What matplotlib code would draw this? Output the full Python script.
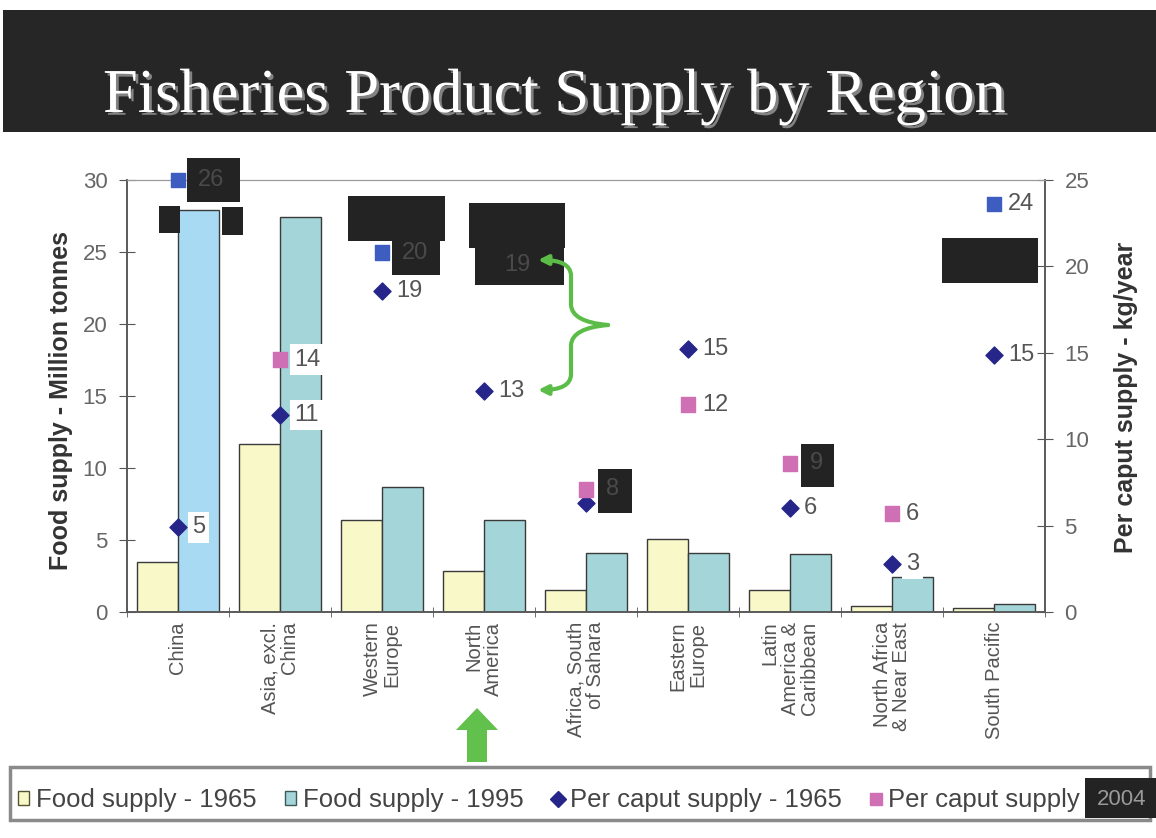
import numpy as np
import matplotlib
matplotlib.use("Agg")
import matplotlib.pyplot as plt
import matplotlib.patheffects as pe
from matplotlib.patches import Rectangle, Polygon, FancyArrowPatch, Patch
from matplotlib.lines import Line2D
from matplotlib.path import Path

W, H = 1156, 838

regions = ["China", "Asia, excl.\nChina", "Western\nEurope", "North\nAmerica",
           "Africa, South\nof Sahara", "Eastern\nEurope", "Latin\nAmerica &\nCaribbean",
           "North Africa\n& Near East", "South Pacific"]
food_1965 = [3.5, 11.7, 6.4, 2.85, 1.5, 5.1, 1.5, 0.4, 0.3]
food_1995 = [27.9, 27.4, 8.7, 6.4, 4.1, 4.1, 4.0, 2.4, 0.55]
caput_1965 = [4.9, 11.4, 18.6, 12.8, 6.3, 15.2, 6.0, 2.8, 14.9]
caput_2004 = [26.0, 14.6, 20.8, 20.1, 7.1, 12.0, 8.6, 5.7, 23.6]
labels_1965 = ["5", "11", "19", "13", "", "15", "6", "3", "15"]   # Africa label is covered
labels_2004 = ["26", "14", "20", "19", "8", "12", "9", "6", "24"]
blue_2004 = [0, 2, 3, 8]          # squares drawn in blue instead of pink
hidden_2004 = [0, 2, 3, 4, 6]     # labels sitting inside the black boxes
white_bg = [0, 1, 7]

plt.rcParams["font.family"] = ["Liberation Sans", "DejaVu Sans"]

fig = plt.figure(figsize=(W / 100, H / 100), dpi=100, facecolor="white")


def fx(x):
    return x / W


def fy(y):
    return 1 - y / H


def black_box(x0, y0, x1, y1, artist_ax=None):
    r = Rectangle((fx(x0), fy(y1)), (x1 - x0) / W, (y1 - y0) / H,
                  transform=fig.transFigure, facecolor="#232323", edgecolor="none",
                  clip_on=False, zorder=5)
    if artist_ax is None:
        fig.add_artist(r)
    else:
        artist_ax.add_patch(r)


# title bar
fig.add_artist(Rectangle((fx(3), fy(132)), (W - 3) / W, 122 / H,
                         transform=fig.transFigure, facecolor="#262626", edgecolor="none"))
fig.text(fx(103), fy(112), "Fisheries Product Supply by Region", family="Liberation Serif",
         fontsize=45, color="white", va="baseline", ha="left",
         path_effects=[pe.withSimplePatchShadow(offset=(2, -2), shadow_rgbFace="#9a9a9a", alpha=0.8)])

ax = fig.add_axes([fx(127), fy(612), 918 / W, 432 / H])
ax2 = ax.twinx()

x = np.arange(len(regions))
ax.bar(x - 0.2, food_1965, 0.4, color="#f8f8c9", edgecolor="#3a3a3a", linewidth=1, zorder=2)
cols95 = ["#a8dbf3"] + ["#a3d5d9"] * (len(regions) - 1)
ax.bar(x + 0.2, food_1995, 0.4, color=cols95, edgecolor="#3a3a3a", linewidth=1, zorder=2)

ax.set_xlim(-0.5, len(regions) - 0.5)
ax.set_ylim(0, 30)
ax2.set_ylim(0, 25)
ax.set_yticks(range(0, 31, 5))
ax2.set_yticks(range(0, 26, 5))
ax.set_xticks(x)
ax.set_xticklabels(regions, rotation=90, fontsize=14.5, color="#555555",
                   multialignment="right", linespacing=1.05)
ax.set_xticks(np.arange(-0.5, len(regions)), minor=True)
ax.tick_params(axis="x", which="major", length=0, pad=7)
ax.tick_params(axis="x", which="minor", direction="inout", length=7, color="#555555")
ax.tick_params(axis="y", direction="inout", length=12, color="#555555",
               labelcolor="#666666", labelsize=16, pad=8)
ax2.tick_params(axis="y", direction="inout", length=12, color="#555555",
                labelcolor="#666666", labelsize=16, pad=8)
for a in (ax, ax2):
    for s in ("left", "right", "bottom"):
        a.spines[s].set_color("#5a5a5a")
        a.spines[s].set_linewidth(1.2)
    a.spines["top"].set_color("#9a9a9a")

fig.text(fx(61), fy(401), "Food supply - Million tonnes", rotation=90, fontsize=18,
         fontweight="bold", color="#333333", ha="center", va="center")
fig.text(fx(1126), fy(397), "Per caput supply - kg/year", rotation=90, fontsize=18,
         fontweight="bold", color="#333333", ha="center", va="center")

# per caput markers
ax2.scatter(x, caput_1965, marker="D", s=75, color="#25258a", zorder=4, clip_on=False)
sq_cols = ["#3d5dc0" if i in blue_2004 else "#d070b4" for i in range(len(regions))]
caput_2004_shown = np.minimum(caput_2004, 25)   # the axis stops at 25
ax2.scatter(x, caput_2004_shown, marker="s", s=110, color=sq_cols, zorder=4, clip_on=False)

for i in range(len(regions)):
    for yv, lab, hidden in ((caput_1965[i], labels_1965[i], False),
                            (caput_2004_shown[i], labels_2004[i], i in hidden_2004)):
        if not lab:
            continue
        kw = dict(textcoords="offset pixels", va="center", ha="left",
                  fontsize=17, annotation_clip=False)
        if hidden:
            ax2.annotate(lab, (x[i], yv), xytext=(20, 0), color="#4a4a4a", zorder=6, **kw)
        elif i in white_bg:
            ax2.annotate(lab, (x[i], yv), xytext=(14, 0), color="#555555", zorder=4,
                         bbox=dict(facecolor="white", edgecolor="none", pad=3), **kw)
        else:
            ax2.annotate(lab, (x[i], yv), xytext=(14, 0), color="#555555", zorder=4, **kw)

# black redaction boxes
black_box(187, 158, 240, 202, ax2)
black_box(159, 206, 180, 233, ax2)
black_box(222, 207, 243, 235, ax2)
black_box(348, 196, 445, 241, ax2)
black_box(392, 241, 440, 275, ax2)
black_box(469, 203, 565, 248, ax2)
black_box(475, 248, 564, 285, ax2)
black_box(598, 469, 632, 513, ax2)
black_box(801, 444, 834, 487, ax2)
black_box(942, 238, 1038, 283, ax2)

# green brace with arrows
green = "#5cbc48"
for sign in (-1, 1):
    pts = [(608, 325), (572, 325 + 3 * sign), (571, 325 + 20 * sign),
           (571, 325 + 50 * sign), (570, 325 + 65 * sign), (538, 325 + 65 * sign)]
    codes = [Path.MOVETO, Path.CURVE3, Path.CURVE3, Path.LINETO, Path.CURVE3, Path.CURVE3]
    p = Path([(fx(a), fy(b)) for a, b in pts], codes)
    fig.add_artist(FancyArrowPatch(path=p, arrowstyle="-|>", mutation_scale=14,
                                   color=green, linewidth=3, transform=fig.transFigure,
                                   zorder=7))

# big green arrow under North America
arrow_pts = [(467, 762), (487, 762), (487, 730), (498, 730), (477, 708), (456, 730), (467, 730)]
fig.add_artist(Polygon([(fx(a), fy(b)) for a, b in arrow_pts], closed=True,
                       transform=fig.transFigure, facecolor="#62c04c", edgecolor="none",
                       zorder=7))

# legend
handles = [Patch(facecolor="#f8f8c9", edgecolor="#555533"),
           Patch(facecolor="#a3d5d9", edgecolor="#3a5a5a"),
           Line2D([], [], marker="D", linestyle="None", markersize=8, color="#25258a"),
           Line2D([], [], marker="s", linestyle="None", markersize=9, color="#d070b4")]
leg_labels = ["Food supply - 1965", "Food supply - 1995", "Per caput supply - 1965",
              "Per caput supply"]
leg = fig.legend(handles, leg_labels, loc="center left", bbox_to_anchor=(fx(5), fy(800)),
                 ncol=4, frameon=False, fontsize=18.5, handlelength=0.45, handleheight=0.45,
                 handletextpad=0.25, columnspacing=1.1, labelcolor="#444444", borderpad=0)
fig.add_artist(Rectangle((fx(10), fy(820)), 1140 / W, 53 / H, transform=fig.transFigure,
                         facecolor="none", edgecolor="#8a8a8a", linewidth=2.5))
fig.canvas.draw()
bb = leg.get_texts()[-1].get_window_extent()
bx0 = bb.x1 + 5
fig.add_artist(Rectangle((bx0 / W, fy(818)), 75 / W, 40 / H, transform=fig.transFigure,
                         facecolor="#232323", edgecolor="none", zorder=5))
fig.text((bx0 + 37) / W, fy(799), "2004", fontsize=16, color="#9a9a9a", ha="center",
         va="center", zorder=6)

fig.savefig("out.png", dpi=100)
